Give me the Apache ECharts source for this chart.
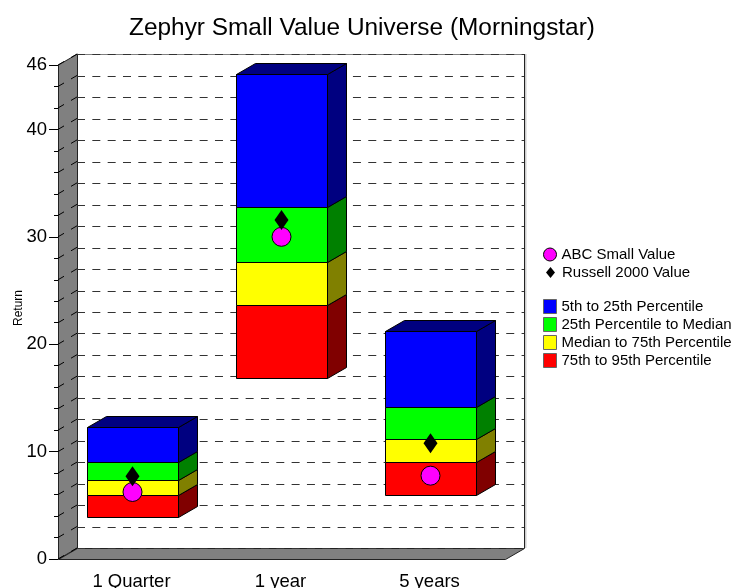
<!DOCTYPE html>
<html>
<head>
<meta charset="utf-8">
<title>Zephyr Small Value Universe</title>
<script src="https://cdn.jsdelivr.net/npm/echarts@6/dist/echarts.min.js"></script>
<style>
  html, body { margin: 0; padding: 0; background: #fff; }
  #chart { width: 735px; height: 588px; }
</style>
</head>
<body>
<div id="chart"></div>
<script>
const categories = ['1 Quarter', '1 year', '5 years']

// band edges, bottom to top
const p95 = [3.87, 16.88, 5.93]
const p75 = [5.96, 23.68, 9.0]
const median = [7.38, 27.65, 11.14]
const p25 = [9.03, 32.75, 14.12]
const p5 = [12.26, 45.2, 21.26]

const abcSmallValue = [6.24, 30.0, 7.76]
const russell2000Value = [7.7, 31.56, 10.77]

const yLabels = [0, 10, 20, 30, 40, 46]
const gridValues = [0, 2, 4, 6, 8, 10, 12, 14, 16, 18, 20, 22, 24, 26, 28, 30, 32, 34, 36, 38, 40, 42, 44, 46]

// 3d depth offset, px
const DX = 19
const DY = 11
const FONT = '"Liberation Sans", Arial, sans-serif'

function px(v) {
  return Math.round(v) + 0.5
}

function bandSeries(name, lows, highs, color, sideColor, isTop) {
  return {
    name,
    type: 'custom',
    xAxisIndex: 0,
    yAxisIndex: 0,
    z: 5,
    clip: false,
    itemStyle: { color },
    data: categories.map((c, i) => [i, lows[i], highs[i]]),
    renderItem(params, api) {
      const bottom = api.coord([api.value(0), api.value(1)])
      const top = api.coord([api.value(0), api.value(2)])
      const w = api.size([1, 0])[0] * 0.605
      const x0 = px(bottom[0] - w / 2)
      const x1 = px(bottom[0] + w / 2)
      const y0 = px(top[1])
      const y1 = px(bottom[1])
      const line = { stroke: '#000', lineWidth: 1 }
      const children = [
        {
          type: 'polygon',
          shape: { points: [[x1, y0], [x1 + DX, y0 - DY], [x1 + DX, y1 - DY], [x1, y1]] },
          style: { fill: sideColor, ...line },
        },
        {
          type: 'rect',
          shape: { x: x0, y: y0, width: x1 - x0, height: y1 - y0 },
          style: { fill: color, ...line },
        },
      ]
      if (isTop) {
        children.push({
          type: 'polygon',
          shape: { points: [[x0, y0], [x0 + DX, y0 - DY], [x1 + DX, y0 - DY], [x1, y0]] },
          style: { fill: sideColor, ...line },
        })
      }
      return { type: 'group', children }
    },
  }
}

// left wall, floor and the back wall edges
const wallSeries = {
  type: 'custom',
  xAxisIndex: 0,
  yAxisIndex: 0,
  z: 1,
  silent: true,
  clip: false,
  data: [0],
  renderItem(params, api) {
    const g = params.coordSys
    const l = g.x
    const r = g.x + g.width
    const t = g.y
    const b = g.y + g.height
    const edge = { stroke: '#222', lineWidth: 1 }
    return {
      type: 'group',
      children: [
        {
          type: 'polyline',
          shape: { points: [[r + DX + 1.5, t - DY], [r + DX + 1.5, b - DY]] },
          style: { stroke: '#ccc', lineWidth: 2, fill: null },
        },
        {
          type: 'polyline',
          shape: { points: [[l + DX, t - DY + 0.5], [r + DX + 0.5, t - DY + 0.5]] },
          style: { stroke: '#808080', lineWidth: 1, fill: null },
        },
        {
          type: 'polyline',
          shape: { points: [[r + DX + 0.5, t - DY], [r + DX + 0.5, b - DY]] },
          style: { ...edge, fill: null },
        },
        {
          type: 'polygon',
          shape: { points: [[l + 0.5, t], [l + DX + 0.5, t - DY], [l + DX + 0.5, b - DY], [l + 0.5, b]] },
          style: { fill: '#808080', ...edge },
        },
        {
          type: 'polygon',
          shape: { points: [[l + 0.5, b + 0.5], [l + DX + 0.5, b - DY + 0.5], [r + DX + 0.5, b - DY + 0.5], [r + 0.5, b + 0.5]] },
          style: { fill: '#808080', ...edge },
        },
      ],
    }
  },
}

// dashed lines running across the left wall
const wallGridSeries = {
  type: 'custom',
  xAxisIndex: 0,
  yAxisIndex: 0,
  z: 2,
  silent: true,
  clip: false,
  data: gridValues.map(v => [0, v]),
  renderItem(params, api) {
    const y = api.coord([0, api.value(1)])[1]
    const l = params.coordSys.x
    return {
      type: 'group',
      children: [
        { type: 'line', shape: { x1: l, y1: y, x2: l + 6, y2: y - 3.5 }, style: { stroke: '#000', lineWidth: 1 } },
        { type: 'line', shape: { x1: l + 13, y1: y - 7.5, x2: l + DX, y2: y - DY }, style: { stroke: '#000', lineWidth: 1 } },
      ],
    }
  },
}

const legendBase = {
  orient: 'vertical',
  left: 543,
  padding: 0,
  itemWidth: 13,
  selectedMode: false,
  textStyle: { fontFamily: FONT, fontSize: 15, color: '#000' },
}

const option = {
  animation: false,
  backgroundColor: '#fff',
  textStyle: { fontFamily: FONT },
  title: {
    text: 'Zephyr Small Value Universe (Morningstar)',
    left: 362,
    top: 16,
    textAlign: 'center',
    padding: 0,
    textStyle: { fontFamily: FONT, fontSize: 24.4, fontWeight: 'normal', color: '#000' },
  },
  legend: [
    {
      ...legendBase,
      top: 247,
      itemHeight: 13,
      data: [{ name: 'ABC Small Value', icon: 'circle', itemStyle: { borderColor: '#000', borderWidth: 1 } }],
    },
    {
      ...legendBase,
      left: 546,
      top: 265,
      itemHeight: 11,
      data: [{ name: 'Russell 2000 Value', icon: 'path://M4.5 0L9 5.5L4.5 11L0 5.5Z' }],
    },
    {
      ...legendBase,
      top: 299,
      itemGap: 3,
      itemHeight: 14,
      icon: 'rect',
      itemStyle: { borderColor: '#666', borderWidth: 1 },
      data: ['5th to 25th Percentile', '25th Percentile to Median', 'Median to 75th Percentile', '75th to 95th Percentile'],
    },
  ],
  grid: [
    { left: 58, top: 65, width: 447, height: 494, outerBoundsMode: 'none' },
    { left: 77, top: 54.5, width: 447, height: 494, outerBoundsMode: 'none' },
  ],
  xAxis: [
    {
      type: 'category',
      gridIndex: 0,
      data: categories,
      axisLine: { show: false },
      axisTick: { alignWithLabel: true, length: 8, lineStyle: { color: '#808080' } },
      axisLabel: { fontFamily: FONT, fontSize: 18.5, color: '#000', margin: 13, padding: [0, 2, 0, 0] },
    },
    {
      type: 'category',
      gridIndex: 1,
      data: categories,
      axisLine: { show: false },
      axisTick: { show: false },
      axisLabel: { show: false },
    },
  ],
  yAxis: [
    {
      type: 'value',
      gridIndex: 0,
      min: 0,
      max: 46,
      name: 'Return',
      nameLocation: 'middle',
      nameGap: 33,
      nameMoveOverlap: false,
      nameTextStyle: { fontFamily: FONT, fontSize: 12, color: '#000', padding: [0, 0, 0, 8] },
      axisLine: { show: false },
      axisTick: { show: true, length: 9, customValues: yLabels, lineStyle: { color: '#000' } },
      axisLabel: { fontFamily: FONT, fontSize: 18.5, color: '#000', margin: 11, customValues: yLabels },
      splitLine: { show: false },
    },
    {
      // minor ticks
      type: 'value',
      gridIndex: 0,
      position: 'left',
      min: 0,
      max: 46,
      axisLine: { show: false },
      axisTick: { show: true, length: 4, customValues: gridValues, lineStyle: { color: '#000' } },
      axisLabel: { show: false },
      splitLine: { show: false },
    },
    {
      // back wall grid
      type: 'value',
      gridIndex: 1,
      min: 0,
      max: 46,
      interval: 2,
      z: 2,
      axisLine: { show: false },
      axisTick: { show: false },
      axisLabel: { show: false },
      splitLine: { show: true, lineStyle: { color: '#333', width: 1, type: [8, 7.33] } },
    },
  ],
  series: [
    wallSeries,
    wallGridSeries,
    bandSeries('75th to 95th Percentile', p95, p75, '#ff0000', '#800000', false),
    bandSeries('Median to 75th Percentile', p75, median, '#ffff00', '#808000', false),
    bandSeries('25th Percentile to Median', median, p25, '#00ff00', '#008000', false),
    bandSeries('5th to 25th Percentile', p25, p5, '#0000ff', '#000080', true),
    {
      name: 'ABC Small Value',
      type: 'scatter',
      xAxisIndex: 0,
      yAxisIndex: 0,
      z: 6,
      symbol: 'circle',
      symbolSize: 19,
      itemStyle: { color: '#ff00ff', borderColor: '#000', borderWidth: 1, opacity: 1 },
      data: categories.map((c, i) => [i, abcSmallValue[i]]),
    },
    {
      name: 'Russell 2000 Value',
      type: 'scatter',
      xAxisIndex: 0,
      yAxisIndex: 0,
      z: 7,
      symbol: 'diamond',
      symbolSize: [14, 20],
      itemStyle: { color: '#000', opacity: 1 },
      data: categories.map((c, i) => [i, russell2000Value[i]]),
    },
  ],
}

const chart = echarts.init(document.getElementById('chart'), null, { renderer: 'canvas' })
chart.setOption(option)
</script>
</body>
</html>
